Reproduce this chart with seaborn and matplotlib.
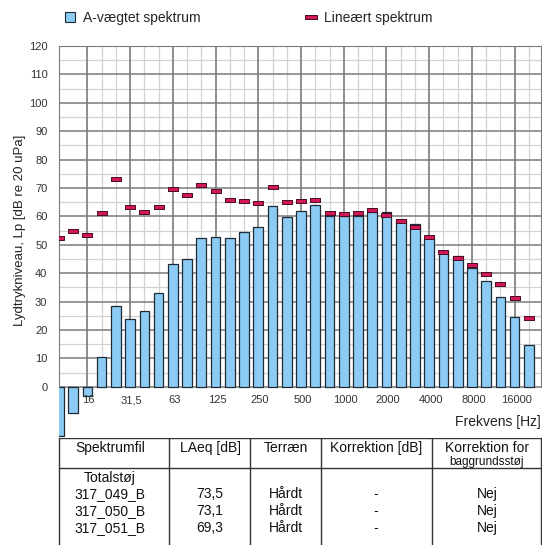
import numpy as np
import matplotlib
matplotlib.use("Agg")
import matplotlib.pyplot as plt
from matplotlib.path import Path
from matplotlib.lines import Line2D
import seaborn as sns

# third octave bands 10 Hz - 20 kHz
bands = ["10", "12.5", "16", "20", "25", "31.5", "40", "50", "63", "80",
         "100", "125", "160", "200", "250", "315", "400", "500", "630", "800",
         "1000", "1250", "1600", "2000", "2500", "3150", "4000", "5000", "6300", "8000",
         "10000", "12500", "16000", "20000"]

a_weighted = [-17.5, -9.2, -3.4, 10.6, 28.5, 24.0, 26.7, 32.9, 43.3, 45.1,
              52.2, 52.6, 52.2, 54.5, 56.2, 63.5, 59.8, 61.9, 63.9, 60.2,
              60.0, 60.2, 61.4, 61.5, 58.8, 57.4, 52.3, 47.9, 45.9, 41.9,
              37.2, 31.6, 24.6, 14.7]

linear = [52.4, 54.7, 53.4, 61.1, 73.2, 63.2, 61.4, 63.2, 69.5, 67.5,
          71.2, 68.8, 65.6, 65.3, 64.8, 70.2, 64.9, 65.4, 65.9, 61.3,
          60.9, 61.2, 62.1, 60.5, 58.2, 56.2, 52.9, 47.6, 45.5, 42.9,
          39.6, 36.1, 31.2, 24.2]

octave_labels = ["16", "31,5", "63", "125", "250", "500", "1000", "2000", "4000", "8000", "16000"]

table_header = ["Spektrumfil", "LAeq [dB]", "Terræn", "Korrektion [dB]", "Korrektion for"]
table_header2 = ["", "", "", "", "baggrundsstøj"]
spektrumfil = ["Totalstøj", "317_049_B", "317_050_B", "317_051_B"]
laeq = ["", "73,5", "73,1", "69,3"]
terraen = ["", "Hårdt", "Hårdt", "Hårdt"]
korrektion = ["", "-", "-", "-"]
baggrund = ["", "Nej", "Nej", "Nej"]

sns.set_style("white")
plt.rcParams["font.family"] = ["Liberation Sans", "DejaVu Sans"]

bar_col = "#8ccbf4"
bar_edge = "#1e2a36"
red = "#d2185a"
red_edge = "#4a0b1e"
dark_grid = "#7a7a7a"
light_grid = "#d2d2d2"

fig = plt.figure(figsize=(5.42, 5.45), dpi=100)
W, H = 542, 545
left, right, top, bottom = 58.5, 541, 46, 437.8
ax = fig.add_axes([left / W, (H - bottom) / H, (right - left) / W, (bottom - top) / H])

x = np.arange(len(bands))
octave_idx = x[2::3]

# grid only above 0 dB
for v in range(5, 120, 10):
    ax.plot([-0.5, 34], [v, v], color=light_grid, lw=0.9, zorder=0)
for v in range(0, 121, 10):
    ax.plot([-0.5, 34], [v, v], color=dark_grid, lw=1.1, zorder=0.5)
for i in x[2:]:
    if i in octave_idx:
        ax.plot([i, i], [0, 120], color=dark_grid, lw=1.2, zorder=0.5)
    else:
        ax.plot([i, i], [0, 120], color=light_grid, lw=0.9, zorder=0)

sns.barplot(x=bands, y=a_weighted, order=bands, color=bar_col, saturation=1,
            edgecolor=bar_edge, linewidth=0.9, width=0.68, errorbar=None, ax=ax, zorder=2)

rect = Path([(-1, -0.38), (1, -0.38), (1, 0.38), (-1, 0.38), (-1, -0.38)])
sns.scatterplot(x=x, y=linear, marker=rect, s=55, color=red, edgecolor=red_edge,
                linewidth=0.7, ax=ax, zorder=3)

ax.set_xlim(-0.03, 33.85)
ax.set_ylim(-18, 120)
ax.set_xticks([])
ax.set_yticks(range(0, 121, 10))
ax.tick_params(axis="y", length=0, pad=8, labelsize=8, labelcolor="#333333")
ax.set_xlabel("")
for s in ["left", "right"]:
    ax.spines[s].set_bounds(0, 120)
    ax.spines[s].set_color(dark_grid)
ax.spines["top"].set_color(dark_grid)
ax.spines["bottom"].set_visible(False)

for i, lab in zip(octave_idx, octave_labels):
    ax.annotate(lab, (i, 0), xytext=(1, -6), textcoords="offset points",
                ha="center", va="top", fontsize=8, color="#333333")

ax.set_ylabel("Lydtrykniveau, Lp [dB re 20 uPa]", fontsize=9.5, color="#222222")
ax.yaxis.set_label_coords(-0.068, 0.53)
ax.text(1.0, 0.04, "Frekvens [Hz]", transform=ax.transAxes, ha="right", va="center",
        fontsize=10, color="#222222")

handles = [Line2D([], [], ls="none", marker="s", markersize=7, markerfacecolor=bar_col,
                  markeredgecolor=bar_edge, markeredgewidth=0.8),
           Line2D([], [], ls="none", marker=rect, markersize=8, markerfacecolor=red,
                  markeredgecolor=red_edge, markeredgewidth=0.7)]
fig.legend(handles, ["A-vægtet spektrum", "Lineært spektrum"], ncol=2, frameon=False,
           loc="center left", bbox_to_anchor=(52 / W, (H - 18) / H), fontsize=10,
           handlelength=0.8, handletextpad=0.5, columnspacing=7.6)

# table below the chart, in pixel coordinates
tab = fig.add_axes([0, 0, 1, 1], zorder=-1)
tab.set_xlim(0, W)
tab.set_ylim(H, 0)
tab.axis("off")
col_edges = [58.5, 169, 250, 321, 432, 541]
col_centers = [110, 210, 285.5, 376, 487]
for cx in col_edges:
    tab.plot([cx, cx], [bottom, H + 5], color="#333333", lw=1)
tab.plot([col_edges[0], W], [bottom, bottom], color="#333333", lw=1)
tab.plot([col_edges[0], W], [468, 468], color="#333333", lw=1)
for cx, h1, h2 in zip(col_centers, table_header, table_header2):
    tab.text(cx, 448, h1, ha="center", va="center", fontsize=10, color="#111111")
    if h2:
        tab.text(cx, 462, h2, ha="center", va="center", fontsize=8.5, color="#111111")
row_y = [478, 494, 511, 528]
for col, cx in zip([spektrumfil, laeq, terraen, korrektion, baggrund], col_centers):
    for ry, val in zip(row_y, col):
        tab.text(cx, ry, val, ha="center", va="center", fontsize=10, color="#111111")

fig.savefig("out.png", dpi=100)
